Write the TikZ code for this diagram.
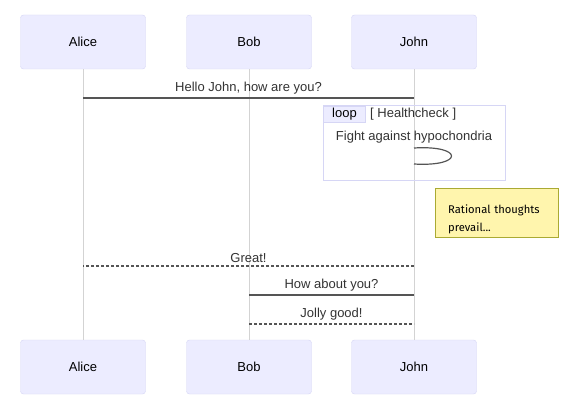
\documentclass[tikz,border=0pt]{standalone}
\usepackage{fontspec}
\setmainfont{Liberation Sans}
\newfontfamily\notefont{Fira Sans}
\usetikzlibrary{positioning}
\definecolor{actorfill}{HTML}{ECECFF}
\definecolor{actorline}{HTML}{D6D6F5}
\definecolor{lifegray}{HTML}{D3D3D3}
\definecolor{msggray}{HTML}{555555}
\definecolor{txtgray}{HTML}{333333}
\definecolor{notefill}{HTML}{FFF5AD}
\definecolor{noteline}{HTML}{AAAA33}
\tikzset{
  actor/.style={draw=actorline, fill=actorfill, rounded corners=3pt,
    minimum width=125pt, minimum height=54pt, font=\fontsize{13}{15}\selectfont, text=black},
  lifeline/.style={draw=lifegray, line width=1pt},
  msg/.style={draw=msggray, line width=1.5pt},
  reply/.style={msg, line width=1.2pt, dash pattern=on 3pt off 2pt},
  msglabel/.style={above=3pt, inner sep=0pt, text=txtgray, font=\fontsize{13}{15}\selectfont},
  loopbox/.style={draw=actorline, line width=1pt},
  looptag/.style={draw=actorline, fill=actorfill, line width=1pt, inner sep=0pt,
    minimum width=42pt, minimum height=16pt, text=black, font=\fontsize{13}{15}\selectfont},
  thought/.style={draw=noteline, fill=notefill, inner xsep=13pt, inner ysep=0pt,
    minimum width=123pt, minimum height=49pt, text width=97pt, align=left, text=black,
    font=\notefont\fontsize{11.2}{18}\selectfont}
}
\begin{document}
\begin{tikzpicture}[x=1pt,y=-1pt]
  \useasboundingbox[fill=white] (0,0) rectangle (580,406);
  % participants, top and bottom
  \foreach \n/\t/\x in {alice/Alice/83, bob/Bob/249, john/John/414} {
    \node[actor] (\n) at (\x,42) {\t};
    \node[actor] (\n-bot) at (\x,367) {\t};
    \draw[lifeline] (\n) -- (\n-bot);
  }
  % loop frame
  \draw[loopbox] (323,106) rectangle (505,180);
  \node[looptag, anchor=north west] (looptag) at (323,106) {loop};
  \node[right=4pt of looptag, inner sep=0pt, text=txtgray,
    font=\fontsize{13}{15}\selectfont] (cond) {[ Healthcheck ]};
  % messages
  \coordinate (m1a) at (alice |- 0,98);
  \coordinate (m1j) at (john |- 0,98);
  \draw[msg] (m1a) -- node[msglabel] {Hello John, how are you?} (m1j);
  \node[inner sep=0pt, text=txtgray, font=\fontsize{13}{15}\selectfont]
    (fight) at (414,137) {Fight against hypochondria};
  \coordinate (s1) at (john |- 0,148);
  \coordinate (s2) at (john |- 0,164);
  \draw[msg, line width=1.2pt] (s1) .. controls (464,145) and (464,167) .. (s2);
  \node[thought, anchor=north west] (think) at (435,188)
    {\rule{0pt}{22pt}Rational thoughts\\prevail...};
  \coordinate (m2j) at (john |- 0,266);
  \coordinate (m2a) at (alice |- 0,266);
  \draw[reply] (m2j) -- node[msglabel] {Great!} (m2a);
  \coordinate (m3j) at (john |- 0,295);
  \coordinate (m3b) at (bob |- 0,295);
  \draw[msg] (m3j) -- node[msglabel] {How about you?} (m3b);
  \coordinate (m4b) at (bob |- 0,324);
  \coordinate (m4j) at (john |- 0,324);
  \draw[reply] (m4b) -- node[msglabel] {Jolly good!} (m4j);
\end{tikzpicture}
\end{document}
